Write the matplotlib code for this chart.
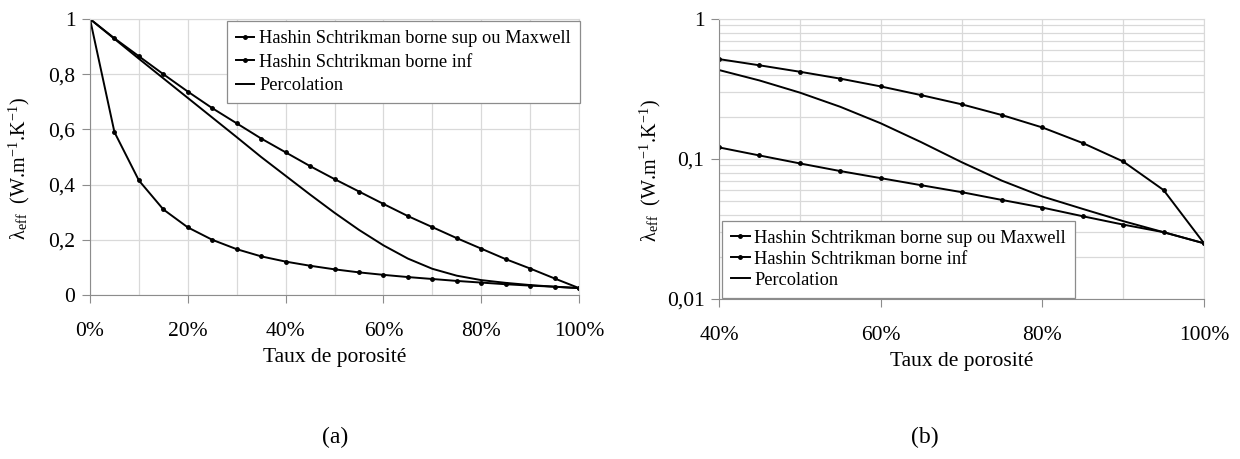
import numpy as np
import matplotlib.pyplot as plt
from matplotlib.ticker import MultipleLocator, LogLocator, NullFormatter

plt.rcParams['font.family'] = ['Liberation Serif', 'DejaVu Serif']
plt.rcParams['mathtext.fontset'] = 'stix'

# porosite, pas de 5 %
porosite = [0.00, 0.05, 0.10, 0.15, 0.20, 0.25, 0.30, 0.35, 0.40, 0.45, 0.50,
            0.55, 0.60, 0.65, 0.70, 0.75, 0.80, 0.85, 0.90, 0.95, 1.00]
hs_sup = [1.0, 0.93, 0.865, 0.80, 0.737, 0.677, 0.622, 0.567, 0.517, 0.467, 0.42,
          0.375, 0.33, 0.286, 0.246, 0.206, 0.168, 0.13, 0.096, 0.06, 0.025]
hs_inf = [1.0, 0.59, 0.415, 0.31, 0.245, 0.2, 0.166, 0.14, 0.121, 0.106, 0.093,
          0.082, 0.073, 0.065, 0.058, 0.051, 0.045, 0.039, 0.034, 0.03, 0.025]
percolation = [1.0, 0.928, 0.856, 0.785, 0.714, 0.643, 0.572, 0.50, 0.432, 0.364, 0.298,
               0.236, 0.18, 0.132, 0.095, 0.07, 0.054, 0.044, 0.036, 0.03, 0.025]

noms = ['Hashin Schtrikman borne sup ou Maxwell', 'Hashin Schtrikman borne inf', 'Percolation']

xticks_a = [0, 0.2, 0.4, 0.6, 0.8, 1.0]
xlabels_a = ['0%', '20%', '40%', '60%', '80%', '100%']
yticks_a = [0, 0.2, 0.4, 0.6, 0.8, 1.0]
ylabels_a = ['0', '0,2', '0,4', '0,6', '0,8', '1']
xticks_b = [0.4, 0.6, 0.8, 1.0]
xlabels_b = ['40%', '60%', '80%', '100%']
yticks_b = [0.01, 0.1, 1]
ylabels_b = ['0,01', '0,1', '1']

FS = 15.5
gris = '#d9d9d9'
axe = '#8c8c8c'
ylab = 'λ$_{\\mathregular{eff}}$  (W.m$^{\\mathregular{ -1}}$.K$^{\\mathregular{-1}}$)'

fig = plt.figure(figsize=(12.4, 4.59), dpi=100)
ax1 = fig.add_axes([90/1240, 1-295/459, 489/1240, 276/459])
ax2 = fig.add_axes([719/1240, 1-299/459, 485/1240, 280/459])


def style(ax):
    for s in ax.spines.values():
        s.set_color(gris)
    ax.spines['left'].set_color(axe)
    ax.spines['bottom'].set_color(axe)
    ax.tick_params(which='major', direction='out', length=5.5, color=axe,
                   labelsize=FS)
    ax.tick_params(axis='x', which='major', pad=14)
    ax.tick_params(axis='y', which='major', pad=5)
    ax.tick_params(which='minor', length=0)
    ax.grid(True, which='both', color=gris, lw=0.9)
    ax.set_axisbelow(True)
    ax.set_xlabel('Taux de porosité', fontsize=FS, labelpad=5)
    ax.set_ylabel(ylab, fontsize=14.5)


def legende(ax, esp, **kw):
    leg = ax.legend(bbox_transform=fig.transFigure, borderaxespad=0, fontsize=13.2,
                    fancybox=False, framealpha=1, edgecolor=axe, handlelength=1.0,
                    handletextpad=0.25, labelspacing=esp, borderpad=0.5, **kw)
    leg.get_frame().set_linewidth(0.9)


# (a)
ax1.plot(porosite, hs_sup, '-', color='black', lw=1.4, marker='o', ms=2.5, label=noms[0])
ax1.plot(porosite, hs_inf, '-', color='black', lw=1.4, marker='o', ms=2.5, label=noms[1])
ax1.plot(porosite, percolation, '-', color='black', lw=1.4, label=noms[2])
ax1.set_xlim(0, 1)
ax1.set_ylim(0, 1)
ax1.set_xticks(xticks_a, xlabels_a)
ax1.set_yticks(yticks_a, ylabels_a)
ax1.xaxis.set_minor_locator(MultipleLocator(0.1))
style(ax1)
ax1.yaxis.set_label_coords(-0.119, 0.457)
legende(ax1, 0.35, loc='upper right', bbox_to_anchor=(580/1240, 1-21/459))

# (b) echelle log, porosite >= 40 %
i0 = porosite.index(0.40)
ax2.semilogy(porosite[i0:], hs_sup[i0:], '-', color='black', lw=1.4, marker='o', ms=2.5, label=noms[0])
ax2.semilogy(porosite[i0:], hs_inf[i0:], '-', color='black', lw=1.4, marker='o', ms=2.5, label=noms[1])
ax2.semilogy(porosite[i0:], percolation[i0:], '-', color='black', lw=1.4, label=noms[2])
ax2.set_xlim(0.4, 1)
ax2.set_ylim(0.01, 1)
ax2.set_xticks(xticks_b, xlabels_b)
ax2.set_yticks(yticks_b, ylabels_b)
ax2.xaxis.set_minor_locator(MultipleLocator(0.1))
ax2.yaxis.set_minor_locator(LogLocator(base=10, subs=np.arange(2, 10)))
ax2.yaxis.set_minor_formatter(NullFormatter())
style(ax2)
ax2.yaxis.set_label_coords(-0.115, 0.46)
legende(ax2, 0.22, loc='lower left', bbox_to_anchor=(722/1240, 1-298/459))

fig.text(335/1240, 1-437/459, '(a)', fontsize=17, ha='center', va='center')
fig.text(925/1240, 1-437/459, '(b)', fontsize=17, ha='center', va='center')

fig.savefig('out.png', dpi=100)
